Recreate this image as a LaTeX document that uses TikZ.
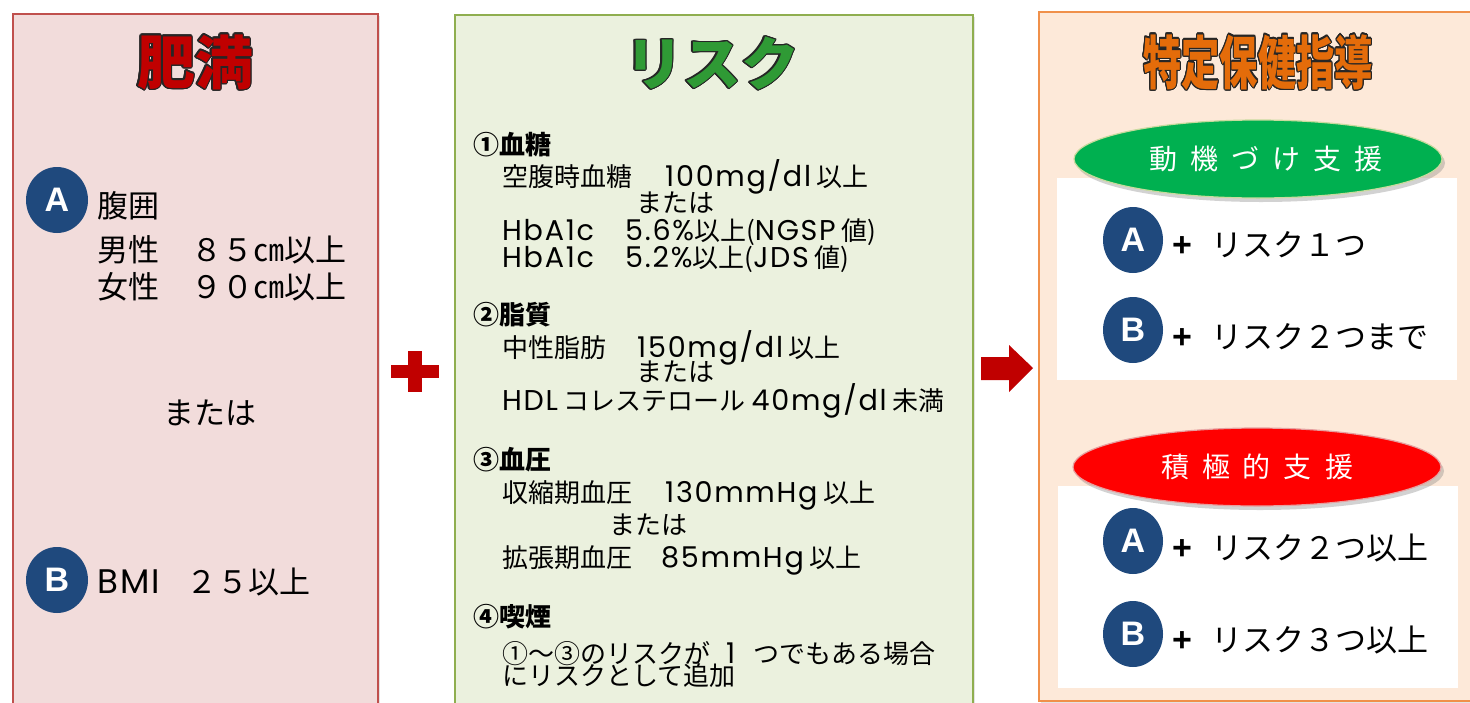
\documentclass[tikz,border=0pt]{standalone}
\usepackage{fontspec}
\setmainfont{Noto Sans CJK JP}
\newfontfamily\geo{Poppins}[Scale=1.1, LetterSpace=6]
\newfontfamily\arl{Liberation Sans}
\usepackage{contour}
\contourlength{1.4pt}
\usetikzlibrary{shadows,shapes.geometric}
\definecolor{lfill}{HTML}{F2DCDB}
\definecolor{lborder}{HTML}{C0504D}
\definecolor{mfill}{HTML}{EBF1DE}
\definecolor{mborder}{HTML}{8FAE4F}
\definecolor{rfill}{HTML}{FDE9D9}
\definecolor{rborder}{HTML}{F0904A}
\definecolor{tred}{HTML}{C00000}
\definecolor{tgreen}{HTML}{2F9A35}
\definecolor{torange}{HTML}{E46C0A}
\definecolor{cblue}{HTML}{1F497D}
\definecolor{egreen}{HTML}{00B050}
\definecolor{egborder}{HTML}{C9DA9E}
\definecolor{ered}{HTML}{FF0000}
\definecolor{erborder}{HTML}{E6A0A0}
\newcommand\lt[1]{{\geo #1}}
\tikzset{
  panel/.style={anchor=north west, inner sep=0pt, line width=1.6pt,
    drop shadow={opacity=0.22, shadow xshift=2pt, shadow yshift=-2pt}},
  whitebox/.style={anchor=north west, inner sep=0pt, fill=white,
    minimum width=400pt, minimum height=202pt},
  ttl/.style={inner sep=0pt, font=\fontsize{58}{58}\selectfont\bfseries},
  lefttxt/.style={anchor=base west, inner sep=0pt, text height=22pt, text depth=4pt,
    font=\fontsize{31}{31}\selectfont},
  midhead/.style={anchor=base west, inner sep=0pt, text height=19pt, text depth=3pt,
    font=\fontsize{26}{26}\selectfont\bfseries},
  midtxt/.style={anchor=base west, inner sep=0pt, text height=17pt, text depth=2pt,
    font=\fontsize{26}{26}\selectfont},
  righttxt/.style={anchor=base west, inner sep=0pt, font=\fontsize{31}{31}\selectfont},
  plustxt/.style={anchor=base, inner sep=0pt, font=\fontsize{34}{34}\selectfont\arl\bfseries},
  badge/.style={ellipse, fill=cblue, inner sep=0pt, minimum width=62pt, minimum height=66pt,
    text=white, font=\fontsize{34}{34}\selectfont\arl\bfseries},
  pill/.style={ellipse, line width=1.2pt, minimum width=368pt, minimum height=78pt,
    text=white, font=\fontsize{28}{28}\selectfont,
    drop shadow={opacity=0.35, shadow xshift=3pt, shadow yshift=-4pt}},
}
\begin{document}
\begin{tikzpicture}[x=1pt,y=-1pt]
\useasboundingbox (0,0) rectangle (1470,702);
\clip (0,0) rectangle (1470,702);
\fill[white] (0,0) rectangle (1470,702);

% panels
\node[panel, fill=lfill, draw=lborder, minimum width=365pt, minimum height=720pt] (left) at (12,13) {};
\node[panel, fill=mfill, draw=mborder, minimum width=518pt, minimum height=720pt] (mid) at (454,14) {};
\node[panel, fill=rfill, draw=rborder, minimum width=460pt, minimum height=689pt] (right) at (1038,11) {};

% titles
\node[ttl] (t1) at (195,63) {\contour{black!85}{\textcolor{tred}{肥満}}};
\node[ttl] (t2) at (712,64) {\contour{black!85}{\textcolor{tgreen}{リスク}}};
\node[ttl] (t3) at (1258,63) {\scalebox{0.66}[1]{\contour{black!85}{\textcolor{torange}{特定保健指導}}}};

% plus and arrow
\fill[tred] (391,365) rectangle (439,378);
\fill[tred] (408,351) rectangle (422,392);
\fill[tred] (981,357) -- (1009,357) -- (1009,345) -- (1033,368) -- (1009,392) -- (1009,380) -- (981,380) -- cycle;

% left panel
\node[badge] (la) at (57,200) {A};
\node[lefttxt] (l1) at (97,217.5) {腹囲};
\node[lefttxt] (l2) at (97,261.5) {男性\hspace{32pt}８５㎝以上};
\node[lefttxt] (l3) at (97,298.5) {女性\hspace{32pt}９０㎝以上};
\node[lefttxt, anchor=base] (l4) at (210,424.5) {または};
\node[badge] (lb) at (57,580) {B};
\node[lefttxt] (l5) at (97,593.5) {\lt{BMI}};
\node[lefttxt] (l6) at (186,593.5) {２５以上};

% middle panel
\node[midhead] (h1) at (473,154) {①血糖};
\node[midtxt] (m1a) at (502,186.5) {空腹時血糖};
\node[midtxt] (m1b) at (665,186.5) {\lt{100mg/dl} 以上};
\node[midtxt] (m1c) at (636,212) {または};
\node[midtxt] (m1d) at (502,240.5) {\lt{HbA1c}};
\node[midtxt] (m1e) at (625,240.5) {\lt{5.6\%}以上(\lt{NGSP} 値)};
\node[midtxt] (m1f) at (502,267) {\lt{HbA1c}};
\node[midtxt] (m1g) at (625,267) {\lt{5.2\%}以上(\lt{JDS} 値)};

\node[midhead] (h2) at (473,324) {②脂質};
\node[midtxt] (m2a) at (502,357.5) {中性脂肪};
\node[midtxt] (m2b) at (637,357.5) {\lt{150mg/dl} 以上};
\node[midtxt] (m2c) at (636,381.5) {または};
\node[midtxt] (m2d) at (502,410.5) {\lt{HDL} コレステロール \lt{40mg/dl} 未満};

\node[midhead] (h3) at (473,469) {③血圧};
\node[midtxt] (m3a) at (502,502.5) {収縮期血圧};
\node[midtxt] (m3b) at (665,502.5) {\lt{130mmHg} 以上};
\node[midtxt] (m3c) at (609,534.5) {または};
\node[midtxt] (m3d) at (502,567.5) {拡張期血圧};
\node[midtxt] (m3e) at (661,567.5) {\lt{85mmHg} 以上};

\node[midhead] (h4) at (473,626) {④喫煙};
\node[midtxt] (m4a) at (502,663.5) {①～③のリスクが\hspace{16pt}\lt{1}\hspace{18pt}つでもある場合};
\node[midtxt] (m4b) at (502,685.5) {にリスクとして追加};

% right panel
\node[whitebox] (w1) at (1057,178) {};
\node[whitebox] (w2) at (1058,486) {};
\node[pill, fill=egreen, draw=egborder] (p1) at (1258,159)
  {\hspace{16pt}動\hspace{13pt}機\hspace{13pt}づ\hspace{13pt}け\hspace{13pt}支\hspace{13pt}援};
\node[pill, fill=ered, draw=erborder] (p2) at (1257,467)
  {積\hspace{13pt}極\hspace{13pt}的\hspace{13pt}支\hspace{13pt}援};

\node[badge, minimum width=60pt] (ra1) at (1133,240) {A};
\node[plustxt] (rp1) at (1182,256) {+};
\node[righttxt] (rt1) at (1211,256.8) {リスク１つ};
\node[badge, minimum width=60pt] (rb1) at (1133,330) {B};
\node[plustxt] (rp2) at (1182,348) {+};
\node[righttxt] (rt2) at (1211,348.8) {リスク２つまで};

\node[badge, minimum width=60pt] (ra2) at (1133,541) {A};
\node[plustxt] (rp3) at (1182,559) {+};
\node[righttxt] (rt3) at (1211,559.8) {リスク２つ以上};
\node[badge, minimum width=60pt] (rb2) at (1133,634) {B};
\node[plustxt] (rp4) at (1182,651) {+};
\node[righttxt] (rt4) at (1211,651.8) {リスク３つ以上};
\end{tikzpicture}
\end{document}
